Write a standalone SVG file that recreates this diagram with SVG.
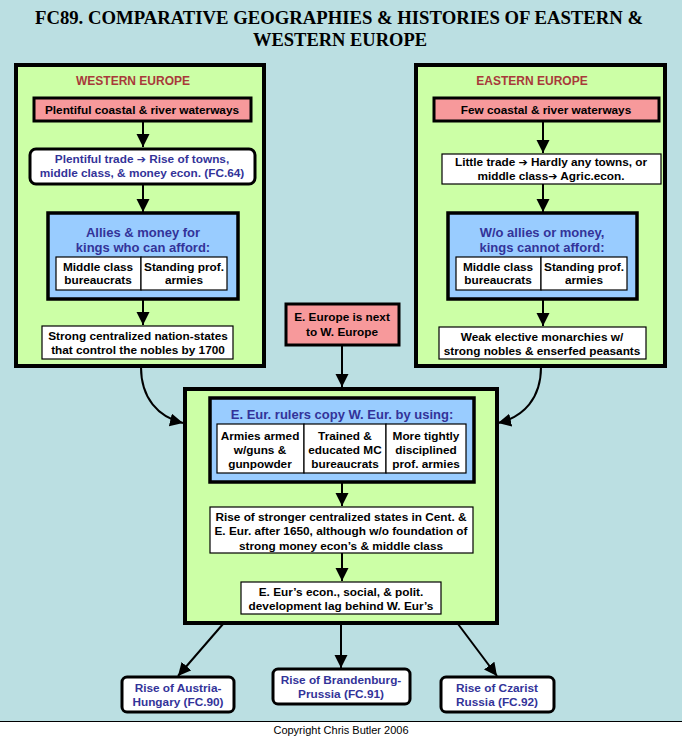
<svg xmlns="http://www.w3.org/2000/svg" width="682" height="738" viewBox="0 0 682 738">
<defs>
<marker id="ah" markerUnits="userSpaceOnUse" markerWidth="14" markerHeight="14" refX="13" refY="6.5" orient="auto">
<path d="M0,0 L13,6.5 L0,13 z" fill="#000"/>
</marker>
<style>
.bg{fill:#BBDFE2}
.grn{fill:#CCFFA6;stroke:#000;stroke-width:4}
.pink{fill:#F7999B;stroke:#000;stroke-width:3}
.blue{fill:#99CCFF;stroke:#000;stroke-width:3.5}
.wt{fill:#fff;stroke:#000;stroke-width:1.2}
.wr{fill:#fff;stroke:#000;stroke-width:3}
.t{font-family:"Liberation Sans",Arial,sans-serif;font-weight:bold;font-size:11.8px;fill:#000;text-anchor:middle}
.tb{font-family:"Liberation Sans",Arial,sans-serif;font-weight:bold;font-size:11.8px;fill:#333399;text-anchor:middle}
.th{font-family:"Liberation Sans",Arial,sans-serif;font-weight:bold;font-size:13px;fill:#333399;text-anchor:middle}
.hd{font-family:"Liberation Sans",Arial,sans-serif;font-weight:bold;font-size:12px;fill:#A83A3A;text-anchor:middle}
.title{font-family:"Liberation Serif","Times New Roman",serif;font-weight:bold;font-size:19px;fill:#000;text-anchor:middle}
.cp{font-family:"Liberation Sans",Arial,sans-serif;font-size:11px;fill:#000;text-anchor:middle}
.ar{font-family:"DejaVu Sans",sans-serif;font-weight:bold;font-size:11px}
.c{fill:none;stroke:#000;stroke-width:2;marker-end:url(#ah)}
</style>
</defs>
<rect class="bg" x="0" y="0" width="682" height="721"/>
<rect x="0" y="721" width="682" height="17" fill="#fff"/>
<line x1="0" y1="721.5" x2="682" y2="721.5" stroke="#000" stroke-width="1"/>
<text class="cp" x="341" y="734">Copyright Chris Butler 2006</text>

<g id="title">
<text class="title" x="339" y="24" textLength="608" lengthAdjust="spacingAndGlyphs">FC89. COMPARATIVE GEOGRAPHIES &amp; HISTORIES OF EASTERN &amp;</text>
<text class="title" x="340" y="46" textLength="174" lengthAdjust="spacingAndGlyphs">WESTERN EUROPE</text>
</g>

<g id="western-europe">
<rect class="grn" x="16" y="65" width="248" height="301"/>
<text class="hd" x="133" y="85">WESTERN EUROPE</text>
</g>
<g id="w-waterways">
<rect class="pink" x="34" y="98" width="217" height="23"/>
<text class="t" x="142" y="114">Plentiful coastal &amp; river waterways</text>
</g>
<g id="w-trade">
<rect class="wr" x="30" y="149" width="225" height="35" rx="6"/>
<text class="tb" x="142" y="163">Plentiful trade <tspan class="ar">➔</tspan> Rise of towns,</text>
<text class="tb" x="142" y="177">middle class, &amp; money econ. (FC.64)</text>
</g>
<g id="w-allies">
<rect class="blue" x="48" y="213" width="190" height="86"/>
<text class="th" x="143" y="237">Allies &amp; money for</text>
<text class="th" x="143" y="252">kings who can afford:</text>
<rect class="wt" x="56" y="257" width="85" height="33"/>
<rect class="wt" x="141" y="257" width="86" height="33"/>
<text class="t" x="98" y="271">Middle class</text>
<text class="t" x="98" y="284">bureaucrats</text>
<text class="t" x="184" y="271">Standing prof.</text>
<text class="t" x="184" y="284">armies</text>
</g>
<g id="w-states">
<rect class="wt" x="42" y="326" width="191" height="33"/>
<text class="t" x="138" y="340">Strong centralized nation-states</text>
<text class="t" x="138" y="354">that control the nobles by 1700</text>
</g>

<g id="eastern-europe">
<rect class="grn" x="416" y="65" width="249" height="301"/>
<text class="hd" x="532" y="85">EASTERN EUROPE</text>
</g>
<g id="e-waterways">
<rect class="pink" x="434" y="98" width="225" height="23"/>
<text class="t" x="546" y="114">Few coastal &amp; river waterways</text>
</g>
<g id="e-trade">
<rect class="wt" x="442" y="154" width="219" height="30"/>
<text class="t" x="551" y="166">Little trade <tspan class="ar">➔</tspan> Hardly any towns, or</text>
<text class="t" x="551" y="180">middle class<tspan class="ar">➔</tspan> Agric.econ.</text>
</g>
<g id="e-allies">
<rect class="blue" x="448" y="213" width="189" height="86"/>
<text class="th" x="542" y="237">W/o allies or money,</text>
<text class="th" x="542" y="252">kings cannot afford:</text>
<rect class="wt" x="456" y="257" width="85" height="33"/>
<rect class="wt" x="541" y="257" width="86" height="33"/>
<text class="t" x="498" y="271">Middle class</text>
<text class="t" x="498" y="284">bureaucrats</text>
<text class="t" x="584" y="271">Standing prof.</text>
<text class="t" x="584" y="284">armies</text>
</g>
<g id="e-monarchies">
<rect class="wt" x="439" y="327" width="207" height="32"/>
<text class="t" x="542" y="341">Weak elective monarchies w/</text>
<text class="t" x="542" y="355">strong nobles &amp; enserfed peasants</text>
</g>

<g id="next-to">
<rect class="pink" x="286" y="304" width="113" height="41"/>
<text class="t" x="342" y="321">E. Europe is next</text>
<text class="t" x="342" y="336">to W. Europe</text>
</g>

<g id="central">
<rect class="grn" x="185" y="389" width="312" height="234"/>
</g>
<g id="copy">
<rect class="blue" x="210" y="398" width="264" height="84"/>
<text class="th" x="342" y="419">E. Eur. rulers copy W. Eur. by using:</text>
<rect class="wt" x="217" y="424" width="87" height="49"/>
<rect class="wt" x="304" y="424" width="82" height="49"/>
<rect class="wt" x="386" y="424" width="80" height="49"/>
<text class="t" x="260" y="440">Armies armed</text>
<text class="t" x="260" y="454">w/guns &amp;</text>
<text class="t" x="260" y="468">gunpowder</text>
<text class="t" x="345" y="440">Trained &amp;</text>
<text class="t" x="345" y="454">educated MC</text>
<text class="t" x="345" y="468">bureaucrats</text>
<text class="t" x="426" y="440">More tightly</text>
<text class="t" x="426" y="454">disciplined</text>
<text class="t" x="426" y="468">prof. armies</text>
</g>
<g id="rise-states">
<rect class="wt" x="210" y="507" width="263" height="46"/>
<text class="t" x="341" y="521">Rise of stronger centralized states in Cent. &amp;</text>
<text class="t" x="341" y="535">E. Eur. after 1650, although w/o foundation of</text>
<text class="t" x="341" y="550">strong money econ’s &amp; middle class</text>
</g>
<g id="lag">
<rect class="wt" x="241" y="582" width="200" height="32"/>
<text class="t" x="341" y="596">E. Eur’s econ., social, &amp; polit.</text>
<text class="t" x="341" y="610">development lag behind W. Eur’s</text>
</g>

<g id="austria">
<rect class="wr" x="122" y="677" width="112" height="35" rx="5"/>
<text class="tb" x="178" y="692">Rise of Austria-</text>
<text class="tb" x="178" y="706">Hungary (FC.90)</text>
</g>
<g id="prussia">
<rect class="wr" x="273" y="669" width="137" height="35" rx="5"/>
<text class="tb" x="341" y="684">Rise of Brandenburg-</text>
<text class="tb" x="341" y="698">Prussia (FC.91)</text>
</g>
<g id="russia">
<rect class="wr" x="441" y="677" width="113" height="35" rx="5"/>
<text class="tb" x="497" y="692">Rise of Czarist</text>
<text class="tb" x="497" y="706">Russia (FC.92)</text>
</g>

<g id="connectors">
<path class="c" d="M143,121 L143,147"/>
<path class="c" d="M143,184 L143,212"/>
<path class="c" d="M143,299 L143,325"/>
<path class="c" d="M543,121 L543,153"/>
<path class="c" d="M543,184 L543,212"/>
<path class="c" d="M543,299 L543,326"/>
<path class="c" d="M342,345 L342,387"/>
<path class="c" d="M342,482 L342,506"/>
<path class="c" d="M342,553 L342,581"/>
<path class="c" d="M141,367 C141,398 158,417 183,423"/>
<path class="c" d="M541,367 C541,398 524,417 498,423"/>
<path class="c" d="M223,624 L178,676"/>
<path class="c" d="M341,624 L341,668"/>
<path class="c" d="M458,624 L497,676"/>
</g>
</svg>
